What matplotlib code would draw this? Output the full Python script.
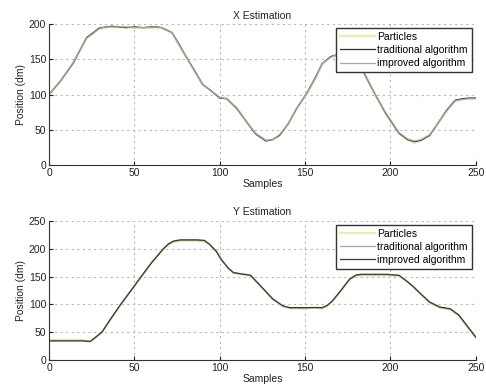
import matplotlib.pyplot as plt

plt.rcParams["font.family"] = ["Liberation Sans", "DejaVu Sans"]

# X estimation (samples vs position in dm)
x_samples = [0, 7, 14, 22, 26, 29, 33, 37, 41, 45, 50, 55, 60, 63, 66, 72, 76, 80, 85, 90,
             94, 100, 104, 110, 116, 121, 127, 131, 135, 140, 145, 151, 156, 160, 165,
             168, 172, 176, 180, 184, 190, 197, 205, 210, 214, 218, 223, 228, 233, 238,
             242, 246, 250]
x_traditional = [100, 120, 144, 181, 188, 194, 196, 197, 196, 195, 196, 195, 196, 196, 195,
                 188, 172, 155, 135, 114, 107, 95, 94, 80, 60, 44, 34, 36, 42, 58, 80,
                 102, 124, 144, 154, 156, 157, 155, 146, 133, 105, 74, 45, 36, 33, 35,
                 42, 60, 78, 92, 94, 95, 95]
x_improved = [100, 120, 145, 180, 187, 193, 196, 196, 196, 196, 195, 195, 195, 196, 195,
              188, 171, 155, 134, 114, 107, 96, 94, 81, 60, 45, 35, 36, 43, 58, 80,
              102, 123, 144, 153, 156, 157, 155, 146, 134, 105, 75, 46, 37, 34, 36,
              43, 60, 77, 91, 93, 94, 94]
x_particles = [100, 121, 145, 180, 187, 193, 195, 196, 195, 195, 195, 195, 195, 195, 194,
               188, 171, 154, 134, 115, 107, 96, 95, 81, 61, 45, 35, 36, 42, 58, 80,
               101, 123, 143, 153, 155, 156, 154, 145, 133, 104, 74, 45, 36, 31, 35,
               42, 59, 77, 91, 93, 94, 94]

# Y estimation (samples vs position in dm)
y_samples = [0, 10, 20, 24, 27, 31, 36, 42, 48, 54, 60, 67, 70, 73, 77, 82, 87, 91, 94, 98,
             101, 105, 108, 112, 118, 123, 131, 137, 141, 150, 156, 160, 163, 166, 171,
             176, 180, 183, 190, 198, 205, 209, 213, 218, 223, 229, 235, 240, 245, 250]
y_traditional = [35, 35, 35, 33, 40, 50, 74, 100, 124, 150, 174, 200, 208, 213, 215, 215,
                 215, 214, 208, 196, 180, 165, 157, 155, 153, 136, 109, 97, 93, 93, 94,
                 93, 98, 106, 125, 145, 152, 153, 153, 153, 152, 143, 133, 118, 103, 94,
                 91, 80, 60, 40]
y_improved = [34, 34, 34, 33, 40, 50, 73, 100, 125, 150, 175, 200, 209, 214, 216, 216,
              216, 215, 208, 195, 180, 165, 157, 155, 152, 136, 110, 97, 94, 94, 94,
              94, 98, 106, 125, 145, 153, 154, 154, 154, 152, 143, 133, 118, 104, 95,
              92, 81, 61, 41]
y_particles = [35, 35, 35, 32, 39, 49, 73, 99, 124, 149, 174, 199, 207, 212, 214, 214,
               214, 213, 207, 195, 180, 165, 156, 154, 152, 135, 109, 96, 93, 92, 95,
               92, 97, 105, 124, 144, 151, 152, 152, 152, 151, 142, 132, 117, 102, 94,
               90, 79, 59, 40]

fig = plt.figure(figsize=(4.86, 3.89), dpi=100)
ax1 = fig.add_axes([0.101, 0.576, 0.878, 0.362])
ax2 = fig.add_axes([0.101, 0.075, 0.878, 0.357])


def style_axes(ax, title, ymax, yticks):
    ax.set_xlim(0, 250)
    ax.set_ylim(0, ymax)
    ax.set_xticks([0, 50, 100, 150, 200, 250])
    ax.set_yticks(yticks)
    ax.grid(True, color="#b8b8b8", linestyle=(0, (2, 3)), linewidth=0.8)
    ax.spines["top"].set_visible(False)
    ax.spines["right"].set_visible(False)
    ax.spines["left"].set_color("#333333")
    ax.spines["bottom"].set_color("#333333")
    ax.tick_params(direction="in", length=3, labelsize=7.5, colors="#222222", pad=2)
    ax.set_title(title, fontsize=7.5, pad=4, color="#222222")
    ax.set_xlabel("Samples", fontsize=7.5, labelpad=1, color="#222222")
    ax.set_ylabel("Position (dm)", fontsize=7.5, labelpad=2, color="#222222")


legend_kw = dict(loc="upper right", fontsize=7.5, frameon=True, fancybox=False,
                 edgecolor="#333333", borderaxespad=0.4, handlelength=3.4,
                 handletextpad=0.2, labelspacing=0.3, borderpad=0.35, framealpha=1)

# top: traditional dark, improved gray
ax1.plot(x_samples, x_particles, color="#e6efb0", linewidth=1.6, label="Particles")
ax1.plot(x_samples, x_traditional, color="#2e2e48", linewidth=0.9, label="traditional algorithm")
ax1.plot(x_samples, x_improved, color="#a8a8a8", linewidth=0.9, label="improved algorithm")
style_axes(ax1, "X Estimation", 200, [0, 50, 100, 150, 200])
ax1.legend(**legend_kw)

# bottom: traditional gray, improved dark
ax2.plot(y_samples, y_particles, color="#e6efb0", linewidth=1.6, label="Particles")
ax2.plot(y_samples, y_traditional, color="#a8a8a8", linewidth=0.9, label="traditional algorithm")
ax2.plot(y_samples, y_improved, color="#3a3a3a", linewidth=0.9, label="improved algorithm")
style_axes(ax2, "Y Estimation", 250, [0, 50, 100, 150, 200, 250])
ax2.legend(**legend_kw)

fig.savefig("out.png", dpi=100)
